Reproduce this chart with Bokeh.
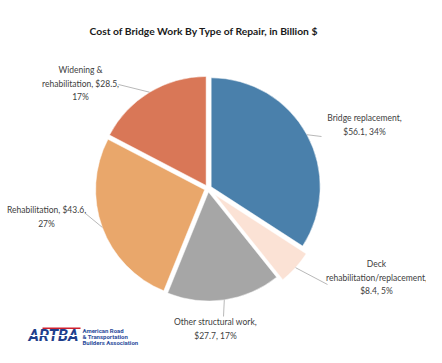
import numpy as np
from bokeh.plotting import figure
from bokeh.models import Range1d, ColumnDataSource
from bokeh.core.properties import value
from bokeh.embed import file_html
from bokeh.resources import INLINE

# ---- data ----
categories = ["Bridge replacement", "Deck rehabilitation/replacement", "Other structural work",
              "Rehabilitation", "Widening & rehabilitation"]
values = [56.1, 8.4, 27.7, 43.6, 28.5]
percents = [34, 5, 17, 27, 17]
label_texts = [
    "Bridge replacement,\n$56.1, 34%",
    "Deck\nrehabilitation/replacement,\n$8.4, 5%",
    "Other structural work,\n$27.7, 17%",
    "Rehabilitation, $43.6,\n27%",
    "Widening &\nrehabilitation, $28.5,\n17%",
]
colors = ["#4A80AB", "#FBE2D5", "#A6A6A6", "#E9A76B", "#D97757"]

# ---- layout ----
W, H = 426, 347
cx, cy, R = 207.5, 159.0, 109.0
explode = [3.6, 9.0, 3.6, 3.6, 3.6]
label_pos = [(364, 222.5), (376, 70), (215, 18.5), (46, 130.5), (80, 264)]
leader_end = [(321, 211), (327, 63), (223, 31), (85, 134), (118, 263)]

vals = np.array(values, dtype=float)
frac = vals / vals.sum()
cum_end = np.cumsum(frac) * 2 * np.pi
cum_start = cum_end - frac * 2 * np.pi
mid = (cum_start + cum_end) / 2
ex = np.array(explode)
xs = cx + ex * np.sin(mid)
ys = cy + ex * np.cos(mid)

src = ColumnDataSource(dict(
    x=xs, y=ys,
    start=np.pi / 2 - cum_start, end=np.pi / 2 - cum_end,
    color=colors))

p = figure(width=W, height=H, x_range=Range1d(0, W), y_range=Range1d(0, H), title=None,
           output_backend="svg", toolbar_location=None, min_border=0)
p.axis.visible = False
p.grid.visible = False
p.outline_line_color = None
p.background_fill_color = "white"

p.wedge(x="x", y="y", radius=R, start_angle="start", end_angle="end", direction="clock",
        fill_color="color", line_color="white", line_width=0.5, source=src)

# leader lines
r_edge = R + ex
lx0 = cx + r_edge * np.sin(mid)
ly0 = cy + r_edge * np.cos(mid)
p.segment(x0=list(lx0), y0=list(ly0), x1=[e[0] for e in leader_end], y1=[e[1] for e in leader_end],
          line_color="#A6A6A6", line_width=0.8)

p.text(x=[l[0] for l in label_pos], y=[l[1] for l in label_pos], text=label_texts,
       text_font=value("Lato"), text_font_size="8.5px", text_color="#404040",
       text_align="center", text_baseline="middle", text_line_height=1.35)

# title
p.text(x=[203.5], y=[317], text=["Cost of Bridge Work By Type of Repair, in Billion $"],
       text_font=value("Lato"), text_font_size="10.3px", text_font_style="bold",
       text_color="#1a1a1a", text_align="center", text_baseline="middle")

# logo
p.text(x=[28], y=[12], text=["ARTBA"], text_font=value("Roboto"),
       text_font_size="16px", text_font_style="bold italic", text_color="#1F3F8C",
       text_align="left", text_baseline="middle")
p.quad(left=[42], right=[80], bottom=[18.5], top=[20], fill_color="#D0202E", line_color=None)
p.quad(left=[28], right=[80], bottom=[11.6], top=[12.4], fill_color="white", line_color=None)
p.text(x=[82, 82, 82], y=[17, 11, 5],
       text=["American Road", "& Transportation", "Builders Association"],
       text_font=value("Roboto"), text_font_size="6px", text_font_style="bold",
       text_color="#2B4C9B", text_align="left", text_baseline="middle")

open("out.html", "w").write(file_html(p, INLINE))
